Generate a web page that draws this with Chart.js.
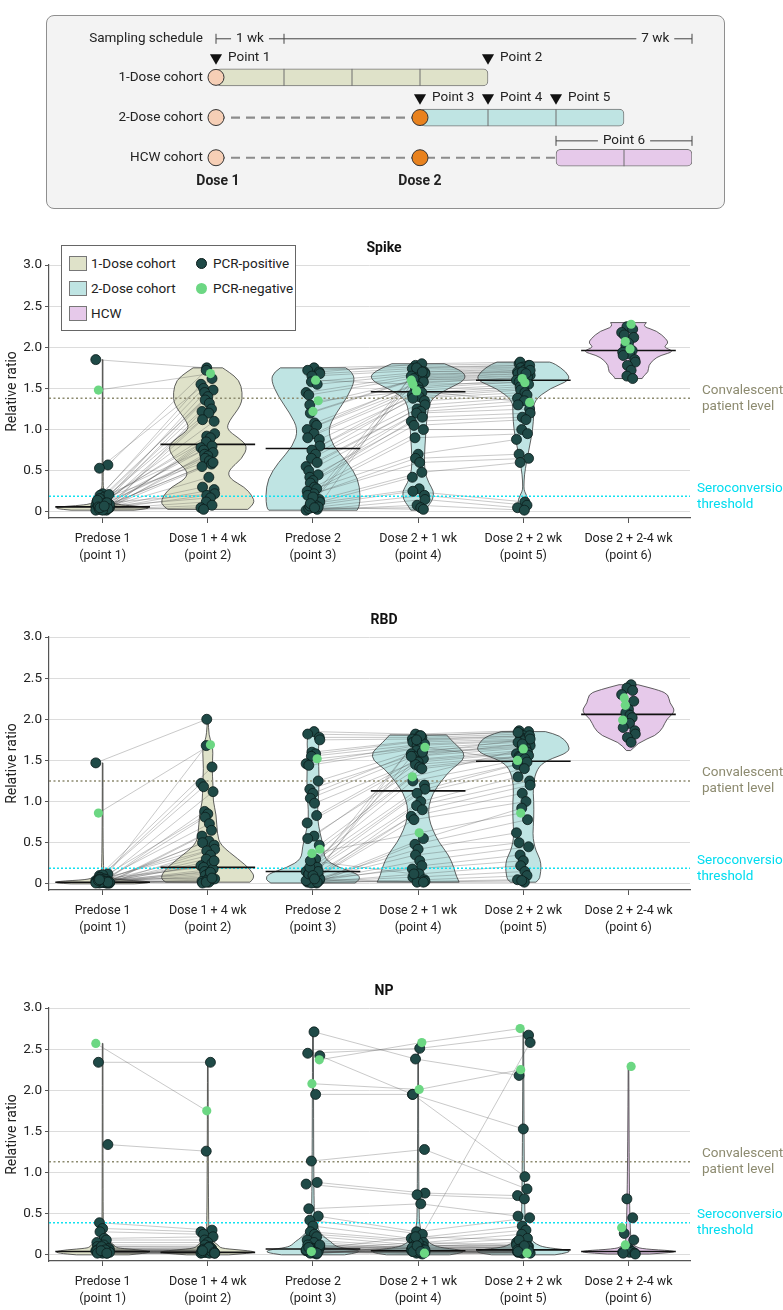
<!DOCTYPE html>
<html>
<head>
<meta charset="utf-8">
<title>Antibody response by cohort</title>
<script src="https://cdn.jsdelivr.net/npm/chart.js@4.4.1/dist/chart.umd.min.js"></script>
<style>
  body { margin: 0; background: #fff; }
  #page { position: relative; width: 783px; height: 1310px; overflow: hidden;
    font-family: Roboto, 'DejaVu Sans Condensed', sans-serif; color: #222; }
  #page canvas { position: absolute; left: 0; }
  .schedule-box { position: absolute; left: 46px; top: 15px; width: 679px; height: 194px; box-sizing: border-box;
    border: 1px solid #8f8f8f; border-radius: 8px; background: #f3f3f3; }
  .legend { position: absolute; left: 61px; top: 245px; width: 235px; height: 86px; box-sizing: border-box;
    border: 1px solid #666; background: #fff; font-size: 13.5px; }
  .legend span { position: absolute; white-space: nowrap; line-height: 16px; }
  .legend .sw { width: 18px; height: 15px; border: 1px solid #777; box-sizing: border-box; }
  .legend .dot { width: 11px; height: 11px; border-radius: 50%; box-sizing: border-box; }
</style>
</head>
<body>
<div id="page">
  <div class="schedule-box"></div>
  <canvas id="schedule" width="783" height="215" style="top:0"></canvas>
  <canvas id="spike" width="783" height="340" style="top:225px"></canvas>
  <canvas id="rbd" width="783" height="340" style="top:597px"></canvas>
  <canvas id="np" width="783" height="340" style="top:968px"></canvas>
  <div class="legend">
    <span class="sw" style="left:7px;top:10px;background:#dfe2c9"></span><span style="left:29px;top:9px">1-Dose cohort</span>
    <span class="sw" style="left:7px;top:35px;background:#bfe4e3"></span><span style="left:29px;top:34px">2-Dose cohort</span>
    <span class="sw" style="left:7px;top:60px;background:#e6c9ea"></span><span style="left:29px;top:59px">HCW</span>
    <span class="dot" style="left:134px;top:12px;background:#1f4a47;border:1px solid #0b1c1b"></span><span style="left:151px;top:9px">PCR-positive</span>
    <span class="dot" style="left:134px;top:37px;background:#6cd783"></span><span style="left:151px;top:34px">PCR-negative</span>
  </div>
</div>
<script>
// ---- sampling schedule ----
const cohortNames = ['1-Dose cohort', '2-Dose cohort', 'HCW cohort']
const cohortBars = [[0, 4], [3, 6], [5, 7]]
const barDividers = [[1, 2, 3], [4, 5], [6]]
const dashedUntil = [null, 3, 5]
const dose2Week = 3
const pointLabels = ['Point 1', 'Point 2', 'Point 3', 'Point 4', 'Point 5']
const pointWeeks = [0, 4, 3, 4, 5]
const pointRows = [0, 0, 1, 1, 1]

// ---- panels ----
const xLabels = [
  ['Predose 1', '(point 1)'], ['Dose 1 + 4 wk', '(point 2)'], ['Predose 2', '(point 3)'],
  ['Dose 2 + 1 wk', '(point 4)'], ['Dose 2 + 2 wk', '(point 5)'], ['Dose 2 + 2-4 wk', '(point 6)']
]
const yTicks = [0, 0.5, 1, 1.5, 2, 2.5, 3]
const convalescentLevels = [1.38, 1.25, 1.13]
const seroconversionLevels = [0.19, 0.19, 0.39]

// Spike
const spikeDose1Pre = [1.85, 1.48, 0.57, 0.53, 0.22, 0.20, 0.18, 0.15, 0.12, 0.10, 0.08, 0.21, 0.05, 0.06, 0.04, 0.09, 0.03, 0.07, 0.12, 0.05, 0.16, 0.04, 0.08, 0.10, 0.02, 0.05, 0.03, 0.14, 0.06, 0.09, 0.04, 0.05, 0.03, 0.11, 0.02, 0.06, 0.04, 0.03, 0.02, 0.05, 0.07]
const spikeDose1Post = [1.75, 1.68, 1.72, 1.62, 1.55, 1.50, 1.48, 1.45, 1.40, 1.36, 1.32, 1.25, 1.22, 1.20, 1.12, 1.10, 0.95, 0.92, 0.90, 0.85, 0.80, 0.78, 0.75, 0.72, 0.70, 0.68, 0.65, 0.62, 0.58, 0.55, 0.42, 0.30, 0.27, 0.22, 0.20, 0.17, 0.12, 0.08, 0.05, 0.03, 0.60]
const spikeDose1Neg = [1]
const spikeDose2Pre = [1.75, 1.72, 1.70, 1.68, 1.65, 1.60, 1.58, 1.55, 1.45, 1.42, 1.35, 1.30, 1.22, 1.20, 1.08, 1.05, 1.00, 0.95, 0.90, 0.88, 0.80, 0.75, 0.70, 0.65, 0.60, 0.55, 0.50, 0.45, 0.42, 0.38, 0.35, 0.30, 0.28, 0.25, 0.22, 0.20, 0.15, 0.12, 0.10, 0.08, 0.05, 0.03, 0.02, 0.04, 0.06, 0.07, 0.18, 0.10, 0.05]
const spikeDose2Wk1 = [1.78, 1.76, 1.80, 1.74, 1.72, 1.55, 1.70, 1.68, 1.66, 1.64, 1.47, 1.62, 1.60, 1.60, 1.58, 1.56, 1.52, 1.50, 1.48, 1.45, 1.42, 1.40, 1.38, 1.35, 1.30, 1.25, 1.22, 1.20, 1.15, 1.10, 1.05, 1.00, 0.90, 0.70, 0.65, 0.60, 0.48, 0.42, 0.28, 0.25, 0.20, 0.15, 0.08, 0.05, 1.75, 1.70, 1.65, 1.62, 0.03]
const spikeDose2Wk2 = [1.80, 1.78, 1.82, 1.76, 1.75, 1.57, 1.74, 1.70, 1.72, 1.68, 1.33, 1.66, 1.62, 1.65, 1.62, 1.64, 1.60, 1.58, 1.55, 1.52, 1.50, 1.48, 1.45, 1.42, 1.38, 1.35, 1.30, 1.25, 1.20, 1.15, 1.12, 1.00, 0.95, 0.88, 0.70, 0.65, 0.60, null, null, 0.12, 0.08, 0.05, 0.02, null, 1.78, 1.72, 1.70, 1.68, null]
const spikeDose2Neg = [5, 10, 12]
const spikeHcw = [2.28, 2.25, 2.22, 2.18, 2.15, 2.12, 2.07, 2.05, 2.02, 1.98, 1.96, 1.94, 1.92, 1.90, 1.85, 1.82, 1.78, 1.72, 1.65, 1.62]
const spikeHcwNeg = [0, 6, 9]
const spikeMedians = [0.06, 0.82, 0.77, 1.46, 1.60, 1.96]
// violin outline per time point: [level, half width in category units]
const spikeViolins = [
  [[0.02, 0.30], [0.04, 0.45], [0.06, 0.42], [0.08, 0.20], [0.10, 0.10], [0.13, 0.10], [0.17, 0.05], [0.22, 0.02], [0.30, 0.004], [0.55, 0.006], [0.60, 0.003], [1.85, 0.003]],
  [[0.03, 0.38], [0.10, 0.45], [0.20, 0.42], [0.30, 0.35], [0.40, 0.21], [0.50, 0.19], [0.65, 0.33], [0.80, 0.38], [0.90, 0.29], [1.00, 0.18], [1.10, 0.20], [1.30, 0.32], [1.45, 0.33], [1.60, 0.30], [1.70, 0.20], [1.75, 0.14]],
  [[0.02, 0.42], [0.05, 0.44], [0.20, 0.45], [0.40, 0.43], [0.60, 0.33], [0.80, 0.19], [1.00, 0.14], [1.20, 0.22], [1.40, 0.33], [1.60, 0.40], [1.70, 0.37], [1.75, 0.31]],
  [[0.02, 0.07], [0.08, 0.10], [0.15, 0.14], [0.25, 0.15], [0.35, 0.10], [0.50, 0.06], [0.70, 0.06], [0.90, 0.07], [1.10, 0.08], [1.30, 0.10], [1.40, 0.15], [1.50, 0.29], [1.60, 0.45], [1.70, 0.44], [1.80, 0.25]],
  [[0.03, 0.03], [0.07, 0.05], [0.15, 0.05], [0.25, 0.01], [0.30, 0.005], [0.45, 0.01], [0.60, 0.03], [0.80, 0.06], [1.00, 0.09], [1.20, 0.10], [1.35, 0.10], [1.50, 0.25], [1.60, 0.45], [1.70, 0.41], [1.80, 0.30], [1.82, 0.25]],
  [[1.62, 0.13], [1.65, 0.14], [1.70, 0.19], [1.78, 0.19], [1.85, 0.24], [1.90, 0.30], [1.95, 0.44], [2.00, 0.33], [2.05, 0.38], [2.10, 0.36], [2.20, 0.27], [2.25, 0.14], [2.30, 0.17]]
]

// RBD
const rbdDose1Pre = [1.47, 0.86, 0.12, 0.10, 0.11, 0.08, 0.06, 0.05, 0.04, 0.03, 0.02, 0.02, 0.01, 0.03, 0.02, 0.05, 0.01, 0.04, 0.02, 0.03, 0.01, 0.02, 0.06, 0.02, 0.01, 0.03, 0.02, 0.04, 0.01, 0.02, 0.03, 0.02, 0.02, 0.03, 0.01, 0.04, 0.02, 0.05]
const rbdDose1Post = [2.00, 1.69, 1.68, 1.42, 1.22, 1.18, 1.12, 0.88, 0.85, 0.81, 0.73, 0.65, 0.58, 0.52, 0.50, 0.47, 0.42, 0.40, 0.35, 0.30, 0.25, 0.22, 0.20, 0.18, 0.15, 0.12, 0.10, 0.08, 0.05, 0.03, 0.02, 0.01, 0.28, 0.06, 0.04, 0.14, 0.02, 0.07]
const rbdDose1Neg = [1]
const rbdDose2Pre = [1.85, 1.82, 1.78, 1.75, 1.60, 1.58, 1.55, 1.52, 1.46, 1.44, 1.25, 1.15, 1.10, 1.04, 0.98, 0.83, 0.74, 0.58, 0.55, 0.47, 0.42, 0.37, 0.30, 0.25, 0.20, 0.15, 0.12, 0.10, 0.08, 0.05, 0.03, 0.02, 0.01, 0.03, 0.05, 0.02, 0.04, 0.06, 0.02, 0.03, 0.01, 0.02, 0.04, 0.12, 0.15, 0.20, 0.10, 0.28, 0.06]
const rbdDose2Wk1 = [1.82, 1.80, 1.78, 1.76, 1.74, 1.72, 1.70, 1.66, 1.68, 1.65, 1.62, 1.60, 1.58, 1.55, 1.52, 1.50, 1.48, 1.45, 1.42, 1.40, 1.30, 0.62, 1.25, 1.20, 1.15, 1.10, 1.00, 0.95, 0.90, 0.82, 0.78, 0.55, 0.48, 0.42, 0.35, 0.28, 0.22, 0.18, 0.12, 0.08, 0.05, 0.03, 0.02, 1.80, 1.75, 1.60, 1.55, 0.12, 0.02]
const rbdDose2Wk2 = [1.86, 1.85, 1.82, 1.80, 1.78, 1.76, 1.75, 1.50, 1.74, 1.72, 1.70, 1.68, 1.66, 1.65, 1.62, 1.60, 1.58, 1.55, 1.56, 1.54, 1.64, 0.86, 1.52, 1.48, 1.45, 1.40, 1.30, 1.25, 1.20, 1.10, 1.00, 0.92, 0.78, 0.62, 0.50, 0.45, 0.35, 0.28, 0.22, 0.15, 0.10, 0.05, 0.02, 1.84, 1.80, 1.76, 1.70, null, 0.04]
const rbdDose2Neg = [7, 20, 21]
const rbdHcw = [2.42, 2.38, 2.35, 2.30, 2.26, 2.22, 2.17, 2.12, 2.08, 2.05, 2.02, 1.99, 1.95, 1.90, 1.86, 1.82, 1.78, 1.72]
const rbdHcwNeg = [4, 6, 11]
const rbdMedians = [0.02, 0.20, 0.15, 1.13, 1.49, 2.06]
const rbdViolins = [
  [[0.00, 0.30], [0.01, 0.45], [0.03, 0.43], [0.05, 0.15], [0.08, 0.08], [0.11, 0.06], [0.14, 0.02], [0.20, 0.004], [1.47, 0.003]],
  [[0.02, 0.40], [0.07, 0.45], [0.17, 0.41], [0.30, 0.29], [0.47, 0.12], [0.60, 0.09], [0.85, 0.08], [1.00, 0.05], [1.20, 0.05], [1.40, 0.04], [1.60, 0.05], [1.70, 0.04], [1.80, 0.01], [2.00, 0.004]],
  [[0.01, 0.40], [0.05, 0.45], [0.12, 0.43], [0.20, 0.24], [0.30, 0.11], [0.45, 0.10], [0.60, 0.07], [0.80, 0.04], [1.00, 0.05], [1.25, 0.06], [1.60, 0.05], [1.80, 0.06], [1.85, 0.004]],
  [[0.02, 0.39], [0.10, 0.36], [0.20, 0.34], [0.35, 0.29], [0.50, 0.20], [0.65, 0.14], [0.80, 0.10], [0.95, 0.10], [1.10, 0.14], [1.25, 0.22], [1.40, 0.32], [1.50, 0.43], [1.60, 0.44], [1.70, 0.35], [1.81, 0.27]],
  [[0.02, 0.12], [0.05, 0.15], [0.10, 0.16], [0.20, 0.17], [0.30, 0.16], [0.40, 0.12], [0.50, 0.10], [0.60, 0.09], [0.80, 0.10], [1.00, 0.10], [1.20, 0.09], [1.40, 0.13], [1.50, 0.22], [1.60, 0.44], [1.70, 0.43], [1.80, 0.35], [1.85, 0.21]],
  [[1.62, 0.02], [1.72, 0.09], [1.80, 0.26], [1.90, 0.33], [2.00, 0.36], [2.10, 0.45], [2.20, 0.39], [2.30, 0.38], [2.35, 0.30], [2.42, 0.09]]
]

// NP
const npDose1Pre = [2.57, 2.34, 1.34, 0.39, 0.32, 0.28, 0.20, 0.18, 0.15, 0.12, 0.10, 0.08, 0.06, 0.05, 0.04, 0.03, 0.02, 0.05, 0.04, 0.03, 0.06, 0.02, 0.08, 0.04, 0.03, 0.05, 0.07, 0.02, 0.04, 0.03, 0.10, 0.06, 0.05, 0.02]
const npDose1Post = [1.75, 2.34, 1.26, 0.30, 0.28, 0.25, 0.22, 0.18, 0.15, 0.12, 0.10, 0.08, 0.06, 0.05, 0.04, 0.03, 0.02, 0.05, 0.04, 0.03, 0.06, 0.02, 0.07, 0.04, 0.03, 0.05, 0.06, 0.02, 0.04, 0.03, 0.09, 0.05, 0.03, 0.02]
const npDose1Neg = [0]
const npDose2Pre = [2.71, 2.45, 2.37, 2.42, 2.08, 1.95, 1.14, 0.88, 0.86, 0.56, 0.47, 0.42, 0.35, 0.28, 0.25, 0.22, 0.18, 0.15, 0.12, 0.10, 0.09, 0.08, 0.07, 0.06, 0.05, 0.05, 0.04, 0.04, 0.03, 0.03, 0.02, 0.02, 0.01, 0.06, 0.07, 0.08, 0.10, 0.12, 0.05, 0.03, 0.04, 0.02, 0.06, 0.09]
const npDose2Wk1 = [2.38, 2.51, 2.58, 1.95, 2.01, 1.95, 1.28, 0.75, 0.73, 0.62, 0.28, 0.25, 0.20, 0.18, 0.15, 0.12, 0.10, 0.08, 0.07, 0.06, 0.05, 0.05, 0.04, 0.04, 0.03, 0.03, 0.02, 0.02, 0.01, 0.06, 0.08, 0.10, 0.12, 0.15, 0.22, 0.05, 0.07, 0.09, 0.03, 0.04, 0.02, 0.06, 0.11, 0.04]
const npDose2Wk2 = [2.18, 2.67, 2.75, 1.53, 2.25, 0.95, 0.80, 0.72, 0.68, 0.47, 0.45, 2.58, 0.35, 0.30, 0.25, 0.20, 0.15, 0.12, 0.10, 0.08, 0.07, 0.06, 0.05, 0.05, 0.04, 0.04, 0.03, 0.03, 0.02, 0.02, 0.06, 0.08, 0.10, 0.12, 0.18, 0.05, 0.07, 0.09, 0.03, 0.04, 0.02, 0.06, 0.11, 0.04]
const npDose2Neg = [2, 4, 40]
const npHcw = [2.29, 0.68, 0.45, 0.33, 0.26, 0.18, 0.12, 0.08, 0.06, 0.05, 0.04, 0.03, 0.03, 0.02, 0.02, 0.01]
const npHcwNeg = [0, 3, 6]
const npMedians = [0.04, 0.03, 0.07, 0.05, 0.06, 0.04]
const npViolins = [
  [[0.00, 0.25], [0.02, 0.42], [0.04, 0.45], [0.06, 0.35], [0.08, 0.15], [0.10, 0.12], [0.13, 0.10], [0.16, 0.06], [0.20, 0.03], [0.30, 0.01], [0.39, 0.004], [2.57, 0.003]],
  [[0.00, 0.20], [0.02, 0.42], [0.04, 0.45], [0.06, 0.30], [0.08, 0.12], [0.12, 0.10], [0.16, 0.05], [0.22, 0.02], [0.30, 0.006], [2.34, 0.003]],
  [[0.00, 0.30], [0.03, 0.45], [0.06, 0.42], [0.09, 0.25], [0.12, 0.20], [0.16, 0.17], [0.22, 0.10], [0.30, 0.05], [0.45, 0.02], [0.60, 0.008], [2.71, 0.004]],
  [[0.00, 0.30], [0.03, 0.45], [0.06, 0.40], [0.09, 0.20], [0.13, 0.12], [0.20, 0.06], [0.30, 0.02], [0.50, 0.006], [2.58, 0.003]],
  [[0.00, 0.30], [0.03, 0.45], [0.06, 0.42], [0.09, 0.20], [0.13, 0.12], [0.20, 0.06], [0.30, 0.03], [0.50, 0.01], [2.75, 0.003]],
  [[0.01, 0.20], [0.03, 0.45], [0.05, 0.42], [0.07, 0.15], [0.10, 0.05], [0.20, 0.01], [2.29, 0.003]]
]

// ---- styling / layout ----
const FONT = "Roboto, 'DejaVu Sans Condensed', sans-serif"
Chart.defaults.font.family = FONT
Chart.defaults.color = '#222'
Chart.defaults.animation = false

const cohortFills = ['#dfe2c9', '#bfe4e3', '#e6c9ea']
const violinFills = ['#dfe2c9', '#dfe2c9', '#bfe4e3', '#bfe4e3', '#bfe4e3', '#e6c9ea']
const BOX_BG = '#f3f3f3'
const xMin = 0.49
const xMax = 6.585
const xJitter = [0, -0.05, 0.04, -0.025, 0.06, -0.065, 0.015, 0.065, -0.04, 0.035, -0.01, 0.05, -0.055, 0.025, -0.03, 0.01, -0.015]
const jit = (i, c) => xJitter[(i * 3 + c * 5) % xJitter.length]
const gap = () => ({ x: null, y: null })

// schedule chart --------------------------------------------------------
const scheduleText = {
  id: 'scheduleText',
  afterDatasetsDraw(chart) {
    const { ctx, scales: { x, y }, chartArea } = chart
    const row = y.getPixelForValue.bind(y)
    const wk = x.getPixelForValue.bind(x)
    ctx.save()
    ctx.strokeStyle = '#6f6f6f'
    ctx.lineWidth = 1
    barDividers.forEach((weeks, r) => weeks.forEach(w => {
      ctx.beginPath(); ctx.moveTo(wk(w), row(r) - 8.5); ctx.lineTo(wk(w), row(r) + 8.5); ctx.stroke()
    }))

    ctx.fillStyle = '#222'
    ctx.textBaseline = 'middle'
    ctx.font = '13.5px ' + FONT
    pointLabels.forEach((t, k) => {
      ctx.textAlign = 'left'
      ctx.fillText(t, wk(pointWeeks[k]) + 12, row(pointRows[k] - 0.49))
    })

    // sampling schedule ruler
    const ry = row(-0.96)
    ctx.textAlign = 'right'
    ctx.fillText('Sampling schedule', chartArea.left - 13, ry)
    ctx.strokeStyle = '#444'
    ctx.beginPath(); ctx.moveTo(wk(0), ry); ctx.lineTo(wk(7), ry); ctx.stroke()
    ;[0, 1, 7].forEach(w => { ctx.beginPath(); ctx.moveTo(wk(w), ry - 5); ctx.lineTo(wk(w), ry + 5); ctx.stroke() })
    const gapLabel = (t, px, py) => {
      const tw = ctx.measureText(t).width
      ctx.fillStyle = BOX_BG
      ctx.fillRect(px - tw / 2 - 5, py - 8, tw + 10, 16)
      ctx.fillStyle = '#222'
      ctx.textAlign = 'center'
      ctx.fillText(t, px, py)
    }
    gapLabel('1 wk', wk(0.5), ry)
    gapLabel('7 wk', wk(6.46), ry)

    // point 6 bracket
    const by = row(1.58)
    ctx.beginPath(); ctx.moveTo(wk(5), by); ctx.lineTo(wk(7), by); ctx.stroke()
    ;[5, 7].forEach(w => { ctx.beginPath(); ctx.moveTo(wk(w), by - 5); ctx.lineTo(wk(w), by + 5); ctx.stroke() })
    gapLabel('Point 6', wk(6), by)

    ctx.font = 'bold 14px ' + FONT
    ctx.textAlign = 'center'
    ctx.fillText('Dose 1', wk(0) + 2, row(2.58))
    ctx.fillText('Dose 2', wk(dose2Week), row(2.58))
    ctx.restore()
  }
}

new Chart(document.getElementById('schedule'), {
  type: 'scatter',
  data: {
    datasets: [
      {
        data: cohortNames.map((n, r) => ({ x: 0, y: r })),
        backgroundColor: '#f6cfb6', borderColor: '#333', borderWidth: 1, pointRadius: 8, clip: false, order: 0
      },
      {
        data: dashedUntil.map((w, r) => ({ x: dose2Week, y: r })).filter(p => p.y > 0),
        backgroundColor: '#e8821e', borderColor: '#333', borderWidth: 1, pointRadius: 8, clip: false, order: 0
      },
      {
        data: pointWeeks.map((w, k) => ({ x: w, y: pointRows[k] - 0.49 })),
        pointStyle: 'triangle', rotation: 180, pointRadius: 7, backgroundColor: '#111', borderWidth: 0, clip: false, order: 0
      },
      {
        type: 'bar', indexAxis: 'y',
        data: cohortBars.map((b, r) => ({ x: b, y: r })),
        backgroundColor: cohortFills, borderColor: '#777', borderWidth: 1,
        borderRadius: 5, borderSkipped: false, barThickness: 17, order: 2
      },
      {
        type: 'line',
        data: dashedUntil.flatMap((w, r) => w === null ? [] : [{ x: 0, y: r }, { x: w, y: r }, gap()]),
        borderColor: '#8c8c8c', borderDash: [9, 6], borderWidth: 2.2, pointRadius: 0, spanGaps: false, clip: false, order: 3
      }
    ]
  },
  options: {
    responsive: false,
    layout: { padding: { left: 0, right: 91, top: 13, bottom: 8.5 } },
    plugins: { legend: { display: false }, tooltip: { enabled: false } },
    scales: {
      x: { type: 'linear', min: 0, max: 7, display: false, offset: false },
      y: {
        type: 'linear', min: -1.4, max: 2.9, reverse: true, offset: false,
        grid: { display: false, drawTicks: false }, border: { display: false },
        afterBuildTicks: s => { s.ticks = cohortNames.map((n, r) => ({ value: r })) },
        afterFit: s => { s.width = 216 },
        ticks: { padding: 13, font: { size: 13.5 }, color: '#222', callback: (v, i) => cohortNames[i] }
      }
    }
  },
  plugins: [scheduleText]
})

// violin panels ----------------------------------------------------------
function smoothSide(ctx, pts, first) {
  if (first) ctx.moveTo(pts[0].px, pts[0].py)
  else ctx.lineTo(pts[0].px, pts[0].py)
  for (let i = 1; i < pts.length - 1; i++) {
    const mx = (pts[i].px + pts[i + 1].px) / 2
    const my = (pts[i].py + pts[i + 1].py) / 2
    ctx.quadraticCurveTo(pts[i].px, pts[i].py, mx, my)
  }
  const last = pts[pts.length - 1]
  ctx.lineTo(last.px, last.py)
}

function violinPlugin(shapes) {
  return {
    id: 'violins',
    beforeDatasetsDraw(chart) {
      const { ctx, scales: { x, y } } = chart
      ctx.save()
      shapes.forEach((shape, k) => {
        const c = k + 1
        const right = shape.map(([v, w]) => ({ px: x.getPixelForValue(c + w), py: y.getPixelForValue(v) }))
        const left = shape.slice().reverse().map(([v, w]) => ({ px: x.getPixelForValue(c - w), py: y.getPixelForValue(v) }))
        ctx.beginPath()
        smoothSide(ctx, right, true)
        smoothSide(ctx, left, false)
        ctx.closePath()
        ctx.fillStyle = violinFills[k]
        ctx.fill()
        ctx.lineWidth = 0.8
        ctx.strokeStyle = '#3a3a3a'
        ctx.stroke()
      })
      ctx.restore()
    }
  }
}

function panelText(title, conv, sero) {
  return {
    id: 'panelText',
    afterDraw(chart) {
      const { ctx, scales: { y } } = chart
      ctx.save()
      ctx.textBaseline = 'middle'
      ctx.textAlign = 'center'
      ctx.fillStyle = '#111'
      ctx.font = 'bold 14px ' + FONT
      ctx.fillText(title, 384, 23)
      ctx.font = '13.5px ' + FONT
      ctx.textAlign = 'left'
      const yc = y.getPixelForValue(conv)
      const ys = y.getPixelForValue(sero)
      ctx.fillStyle = '#8d8b70'
      ctx.fillText('Convalescent', 702, yc - 8)
      ctx.fillText('patient level', 702, yc + 8)
      ctx.fillStyle = '#00dcef'
      ctx.fillText('Seroconversion', 697, ys - 8)
      ctx.fillText('threshold', 697, ys + 8)
      ctx.restore()
    }
  }
}

function makePanel(id, title, d) {
  const pos = []
  const neg = []
  const pairs = []
  const meds = []
  const dot = (c, i, v, isNeg) => {
    if (v === null || v === undefined) return
    ;(isNeg ? neg : pos).push({ x: c + jit(i, c), y: v })
  }
  const link = (c1, v1, c2, v2, i) => {
    if (v1 === null || v2 === null || v1 === undefined || v2 === undefined) return
    pairs.push({ x: c1 + jit(i, c1), y: v1 }, { x: c2 + jit(i, c2), y: v2 }, gap())
  }
  d.pre1.forEach((v, i) => {
    const n = d.neg1.includes(i)
    dot(1, i, v, n)
    dot(2, i, d.post1[i], n)
    link(1, v, 2, d.post1[i], i)
  })
  d.pre2.forEach((v, i) => {
    const n = d.neg2.includes(i)
    dot(3, i, v, n)
    dot(4, i, d.wk1[i], n)
    dot(5, i, d.wk2[i], n)
    link(3, v, 4, d.wk1[i], i)
    link(4, d.wk1[i], 5, d.wk2[i], i)
  })
  d.hcw.forEach((v, i) => dot(6, i, v, d.negHcw.includes(i)))
  d.medians.forEach((m, k) => meds.push({ x: k + 1 - 0.45, y: m }, { x: k + 1 + 0.45, y: m }, gap()))

  new Chart(document.getElementById(id), {
    type: 'scatter',
    data: {
      datasets: [
        { type: 'line', data: pairs, borderColor: 'rgba(70,70,70,0.42)', borderWidth: 0.7, pointRadius: 0, spanGaps: false, order: 6 },
        { type: 'line', data: [{ x: xMin, y: d.conv }, { x: xMax, y: d.conv }], borderColor: '#8d8b70', borderDash: [2, 2.5], borderWidth: 1.5, pointRadius: 0, order: 5 },
        { type: 'line', data: [{ x: xMin, y: d.sero }, { x: xMax, y: d.sero }], borderColor: '#12e2f0', borderDash: [2, 2], borderWidth: 1.5, pointRadius: 0, order: 5 },
        { type: 'line', data: meds, borderColor: '#111', borderWidth: 1.6, pointRadius: 0, spanGaps: false, order: 4 },
        { data: pos, backgroundColor: '#1f4a47', borderColor: '#0b1c1b', borderWidth: 0.8, pointRadius: 5, order: 2 },
        { data: neg, backgroundColor: '#6cd783', borderWidth: 0, pointRadius: 4.6, order: 1 }
      ]
    },
    options: {
      responsive: false,
      layout: { padding: { left: 0, right: 93, top: 40, bottom: 0 } },
      plugins: { legend: { display: false }, tooltip: { enabled: false } },
      scales: {
        x: {
          type: 'linear', min: xMin, max: xMax, offset: false,
          afterBuildTicks: s => { s.ticks = xLabels.map((l, k) => ({ value: k + 1 })) },
          afterFit: s => { s.height = 47 },
          grid: { drawOnChartArea: false, tickLength: 5, tickColor: '#555' },
          border: { color: '#555', width: 1.2 },
          ticks: { autoSkip: false, maxRotation: 0, padding: 8, font: { size: 12.5, lineHeight: 1.3 }, color: '#222', callback: (v, i) => xLabels[i] }
        },
        y: {
          type: 'linear', min: -0.075, max: 3.0, offset: false,
          afterBuildTicks: s => { s.ticks = yTicks.map(v => ({ value: v })) },
          afterFit: s => { s.width = 49 },
          grid: { color: '#dcdcdc', lineWidth: 1, tickLength: 4, tickColor: '#555' },
          border: { color: '#555', width: 1.2 },
          title: { display: true, text: 'Relative ratio', font: { size: 14 }, color: '#222', padding: { top: 4, bottom: 0 } },
          ticks: { padding: 3, font: { size: 13.5 }, color: '#222', callback: v => v === 0 ? '0' : v.toFixed(1) }
        }
      }
    },
    plugins: [violinPlugin(d.violins), panelText(title, d.conv, d.sero)]
  })
}

makePanel('spike', 'Spike', {
  pre1: spikeDose1Pre, post1: spikeDose1Post, neg1: spikeDose1Neg,
  pre2: spikeDose2Pre, wk1: spikeDose2Wk1, wk2: spikeDose2Wk2, neg2: spikeDose2Neg,
  hcw: spikeHcw, negHcw: spikeHcwNeg, medians: spikeMedians, violins: spikeViolins,
  conv: convalescentLevels[0], sero: seroconversionLevels[0]
})
makePanel('rbd', 'RBD', {
  pre1: rbdDose1Pre, post1: rbdDose1Post, neg1: rbdDose1Neg,
  pre2: rbdDose2Pre, wk1: rbdDose2Wk1, wk2: rbdDose2Wk2, neg2: rbdDose2Neg,
  hcw: rbdHcw, negHcw: rbdHcwNeg, medians: rbdMedians, violins: rbdViolins,
  conv: convalescentLevels[1], sero: seroconversionLevels[1]
})
makePanel('np', 'NP', {
  pre1: npDose1Pre, post1: npDose1Post, neg1: npDose1Neg,
  pre2: npDose2Pre, wk1: npDose2Wk1, wk2: npDose2Wk2, neg2: npDose2Neg,
  hcw: npHcw, negHcw: npHcwNeg, medians: npMedians, violins: npViolins,
  conv: convalescentLevels[2], sero: seroconversionLevels[2]
})
</script>
</body>
</html>
